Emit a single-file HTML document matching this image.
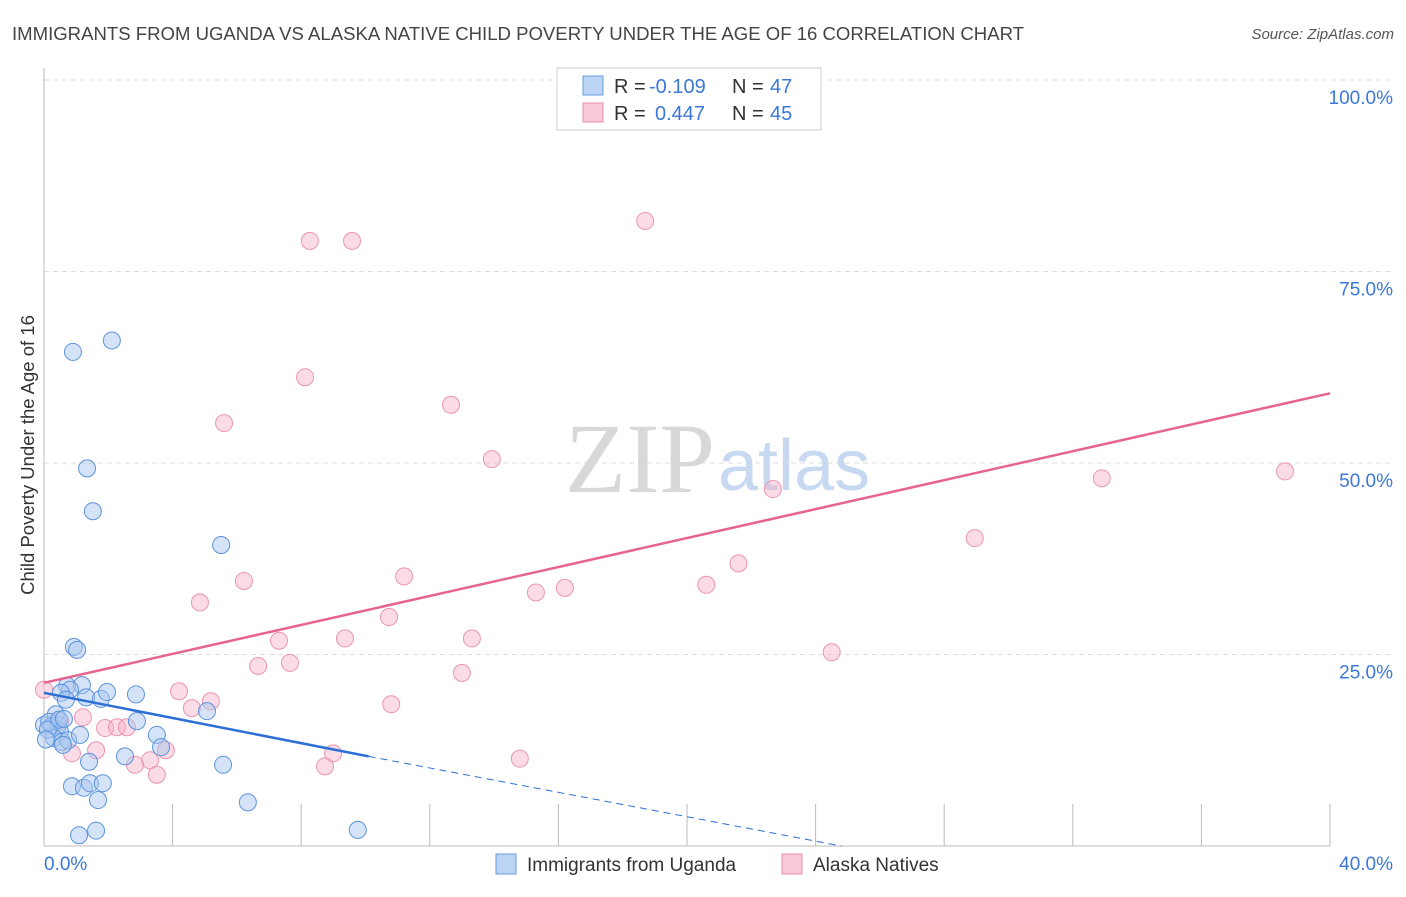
<!DOCTYPE html>
<html><head><meta charset="utf-8"><style>
body{margin:0;background:#fff;}
</style></head><body>
<svg id="c" width="1406" height="892" xmlns="http://www.w3.org/2000/svg" font-family="Liberation Sans, sans-serif">
<text x="12" y="40" font-size="18" fill="#444" textLength="1012" lengthAdjust="spacingAndGlyphs">IMMIGRANTS FROM UGANDA VS ALASKA NATIVE CHILD POVERTY UNDER THE AGE OF 16 CORRELATION CHART</text>
<text x="1394" y="39" font-size="15" fill="#555" text-anchor="end" font-style="italic">Source: ZipAtlas.com</text>
<text transform="translate(34,455) rotate(-90)" font-size="18.5" fill="#333" text-anchor="middle">Child Poverty Under the Age of 16</text>
<g id="grid"></g>
<text x="715" y="492" font-size="100" fill="#d8d8d8" text-anchor="end" style="font-family:'Liberation Serif',serif">ZIP</text>
<text x="718" y="490" font-size="72" fill="#c7d9f0">atlas</text>
<g id="pts"></g><g id="lines"></g>
<rect x="557" y="68" width="264" height="62" fill="#fff" stroke="#ccc"/>
<rect x="583" y="76" width="20" height="19" fill="#bcd4f3" stroke="#6a9bdc"/>
<rect x="583" y="103" width="20" height="19" fill="#f9cad8" stroke="#eb8eac"/>
<g font-size="20">
<text x="614" y="93" fill="#333">R =</text><text x="649" y="93" fill="#3b78d8">-0.109</text><text x="732" y="93" fill="#333">N =</text><text x="770" y="93" fill="#3b78d8">47</text>
<text x="614" y="120" fill="#333">R =</text><text x="655" y="120" fill="#3b78d8">0.447</text><text x="732" y="120" fill="#333">N =</text><text x="770" y="120" fill="#3b78d8">45</text>
</g>
<rect x="496" y="854" width="20" height="20" fill="#bcd4f3" stroke="#6a9bdc"/>
<text x="527" y="871" font-size="19" fill="#333">Immigrants from Uganda</text>
<rect x="782" y="854" width="20" height="20" fill="#f9cad8" stroke="#eb8eac"/>
<text x="813" y="871" font-size="19" fill="#333">Alaska Natives</text>
</svg>
<script>
const yTicks=[25,50,75,100];
const xLabels=["0.0%","40.0%"];
const blueX=[0.90,2.11,1.34,1.52,5.51,0.93,1.03,0.72,1.18,0.81,0.53,0.68,1.31,1.77,1.96,2.86,0.37,0.0,0.25,0.44,0.50,0.31,0.56,0.75,1.12,0.59,2.89,5.07,3.51,3.64,2.52,1.40,0.87,1.24,1.43,1.83,1.68,5.57,6.34,1.09,1.62,9.76,0.16,0.12,0.47,0.62,0.06];
const blueY=[64.5,66.0,49.3,43.7,39.3,26.0,25.6,20.9,21.0,20.4,20.0,19.1,19.4,19.2,20.1,19.8,17.2,15.8,15.7,15.8,14.9,14.1,13.6,13.8,14.5,13.2,16.3,17.6,14.5,12.9,11.7,11.0,7.8,7.6,8.2,8.2,6.0,10.6,5.7,1.4,2.0,2.1,16.2,15.2,16.5,16.6,13.9];
const pinkX=[18.7,8.27,9.58,8.12,12.66,5.60,13.93,38.6,32.9,22.67,28.95,21.6,11.20,6.22,16.2,15.3,20.6,4.85,10.73,7.31,9.36,13.31,24.5,7.65,6.66,13.0,4.20,5.19,4.60,10.8,1.21,0.50,0.0,1.90,2.27,2.58,1.62,0.87,3.79,3.30,2.83,3.51,8.99,8.74,14.8];
const pinkY=[81.6,79.0,79.0,61.2,57.6,55.2,50.5,48.9,48.0,46.6,40.2,36.9,35.2,34.6,33.7,33.1,34.1,31.8,29.9,26.8,27.1,27.1,25.3,23.9,23.5,22.6,20.2,18.9,18.0,18.5,16.8,16.3,20.4,15.4,15.5,15.5,12.5,12.1,12.5,11.2,10.6,9.3,12.1,10.4,11.4];
const blueLine=[[0,20.0],[10.1,11.7]];
const blueDash=[[10.1,11.7],[24.8,0]];
const pinkLine=[[0,21.3],[40,59.1]];
const NS="http://www.w3.org/2000/svg";
const sx=v=>44+v/40*1286, sy=v=>846-v/100*766;
function mk(t,a,p){const e=document.createElementNS(NS,t);for(const k in a)e.setAttribute(k,a[k]);p.appendChild(e);return e;}
const g=document.getElementById('grid');
yTicks.forEach(t=>{
 const l=mk('line',{x1:44,x2:1394,y1:sy(t),y2:sy(t),stroke:'#ddd','stroke-dasharray':'5,4'},g);
 
 
 const tx=mk('text',{x:1393,y:sy(t)+24,'font-size':19,fill:'#3b78d8','text-anchor':'end'},g);tx.textContent=t+'.0%';
 
 
});
const ax=mk('line',{x1:44,x2:44,y1:68,y2:846,stroke:'#bbb'},g);


const xa=mk('line',{x1:44,x2:1330,y1:846,y2:846,stroke:'#bbb'},g);


for(let i=1;i<=10;i++){const t=mk('line',{x1:sx(i*4),x2:sx(i*4),y1:804,y2:846,stroke:'#bbb'},g);
 
 }
xLabels.forEach((s,i)=>{const t=mk('text',{x:i?1393:44,y:870,'font-size':19,fill:'#3b78d8','text-anchor':i?'end':'start'},g);t.textContent=s;
 
 });
const P=document.getElementById('pts');
pinkX.forEach((x,i)=>{const c=mk('circle',{cx:sx(x),cy:sy(pinkY[i]),r:8.5,fill:'rgba(246,176,198,0.45)',stroke:'#eb95b2','stroke-width':1},P);
 
 });
blueX.forEach((x,i)=>{const c=mk('circle',{cx:sx(x),cy:sy(blueY[i]),r:8.5,fill:'rgba(170,200,240,0.5)',stroke:'#5d93dc','stroke-width':1},P);
 
 });
const L=document.getElementById('lines');
const a=mk('line',{x1:sx(pinkLine[0][0]),y1:sy(pinkLine[0][1]),x2:sx(pinkLine[1][0]),y2:sy(pinkLine[1][1]),stroke:'#e6648f','stroke-width':2.5},L);


const b=mk('line',{x1:sx(blueLine[0][0]),y1:sy(blueLine[0][1]),x2:sx(blueLine[1][0]),y2:sy(blueLine[1][1]),stroke:'#2e6fd6','stroke-width':2.5},L);


const d=mk('line',{x1:sx(blueDash[0][0]),y1:sy(blueDash[0][1]),x2:sx(blueDash[1][0]),y2:sy(blueDash[1][1]),stroke:'#2e6fd6','stroke-width':1,'stroke-dasharray':'7,5'},L);


</script>
</body></html>
